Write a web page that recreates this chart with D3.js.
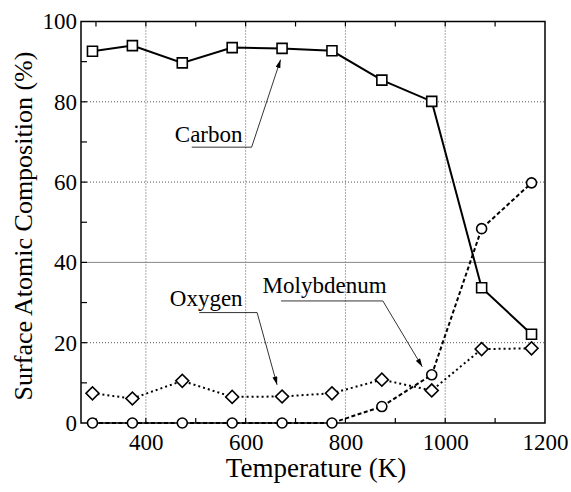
<!DOCTYPE html>
<html>
<head>
<meta charset="utf-8">
<script src="https://cdnjs.cloudflare.com/ajax/libs/d3/7.8.5/d3.min.js"></script>
<style>
  body { margin: 0; background: #fff; }
  text { font-family: "Liberation Serif", "Times New Roman", serif; fill: #000; }
</style>
</head>
<body>
<div id="chart"></div>
<script>
// temperatures (K) of each measurement
var temps = [293, 373, 473, 573, 673, 773, 873, 973, 1073, 1173];
// surface atomic composition (%)
var carbon = [92.6, 94.0, 89.7, 93.5, 93.3, 92.7, 85.4, 80.1, 33.7, 22.1];
var oxygen = [7.4, 6.1, 10.5, 6.5, 6.6, 7.4, 10.8, 8.1, 18.4, 18.6];
var molybdenum = [0, 0, 0, 0, 0, 0, 4.1, 12.0, 48.4, 59.8];

var xTicks = [400, 600, 800, 1000, 1200];
var yTicks = [0, 20, 40, 60, 80, 100];
var xMinor = [300, 400, 500, 600, 700, 800, 900, 1000, 1100];
var yMinor = [10, 20, 30, 40, 50, 60, 70, 80, 90];

// callout labels, placed in data units
var labelNames = ['Carbon', 'Oxygen', 'Molybdenum'];
var labelPos = [[458, 70.1], [448, 29.2], [634, 32.3]];
var labelLine = [
  [[492, 68.7], [612, 68.7], [670, 90.5]],
  [[507, 27.5], [623, 27.5], [663, 9.5]],
  [[671, 30.4], [875, 30.4], [954, 14.0]]
];

(function() {
  var W = 571, H = 492;
  var left = 81, right = 545, top = 21.5, bottom = 423;

  var svg = d3.select('#chart').append('svg')
    .attr('width', W)
    .attr('height', H);

  svg.append('defs').append('marker')
    .attr('id', 'arrow')
    .attr('viewBox', '0 0 10 6')
    .attr('refX', 10)
    .attr('refY', 3)
    .attr('markerWidth', 9)
    .attr('markerHeight', 5)
    .attr('markerUnits', 'userSpaceOnUse')
    .attr('orient', 'auto')
    .append('path')
    .attr('d', 'M0,0L10,3L0,6Z')
    .attr('fill', '#000');

  var x = d3.scaleLinear().domain([270, 1200]).range([left, right]);
  var y = d3.scaleLinear().domain([0, 100]).range([bottom, top]);

  // grid
  var grid = svg.append('g').attr('class', 'grid');
  grid.selectAll('line.gx')
    .data(xTicks.slice(0, -1))
    .enter().append('line')
    .attr('class', 'gx')
    .attr('x1', function(d){ return x(d); })
    .attr('x2', function(d){ return x(d); })
    .attr('y1', top)
    .attr('y2', bottom)
    .attr('stroke', '#555')
    .attr('stroke-width', 1)
    .attr('stroke-dasharray', '1,2');
  grid.selectAll('line.gy')
    .data(yTicks.slice(1, -1))
    .enter().append('line')
    .attr('class', 'gy')
    .attr('x1', left)
    .attr('x2', right)
    .attr('y1', function(d){ return y(d); })
    .attr('y2', function(d){ return y(d); })
    .attr('stroke', function(d){ return d === 40 ? '#888' : '#555'; })
    .attr('stroke-width', 1)
    .attr('stroke-dasharray', function(d){ return d === 40 ? null : '1,2'; });

  // minor ticks on frame
  var ticks = svg.append('g').attr('stroke', '#000').attr('stroke-width', 1.2);
  ticks.selectAll('line.tt')
    .data(xMinor)
    .enter().append('line')
    .attr('class', 'tt')
    .attr('x1', function(d){ return x(d); })
    .attr('x2', function(d){ return x(d); })
    .attr('y1', top)
    .attr('y2', top + 5);
  ticks.selectAll('line.tb')
    .data(xMinor)
    .enter().append('line')
    .attr('class', 'tb')
    .attr('x1', function(d){ return x(d); })
    .attr('x2', function(d){ return x(d); })
    .attr('y1', bottom)
    .attr('y2', bottom - 5);
  ticks.selectAll('line.tl')
    .data(yMinor)
    .enter().append('line')
    .attr('class', 'tl')
    .attr('x1', left)
    .attr('x2', left + 6)
    .attr('y1', function(d){ return y(d); })
    .attr('y2', function(d){ return y(d); });

  // frame
  svg.append('rect')
    .attr('x', left)
    .attr('y', top)
    .attr('width', right - left)
    .attr('height', bottom - top)
    .attr('fill', 'none')
    .attr('stroke', '#000')
    .attr('stroke-width', 1.5);

  // axis labels
  var xAxis = svg.append('g')
    .attr('transform', 'translate(0,' + bottom + ')')
    .call(d3.axisBottom(x).tickValues(xTicks).tickFormat(d3.format('d')).tickSize(0).tickPadding(11));
  var yAxis = svg.append('g')
    .attr('transform', 'translate(' + left + ',0)')
    .call(d3.axisLeft(y).tickValues(yTicks).tickFormat(d3.format('d')).tickSize(0).tickPadding(4));
  [xAxis, yAxis].forEach(function(a){
    a.select('.domain').remove();
    a.selectAll('text')
      .attr('font-size', 23)
      .attr('fill', '#000');
  });

  svg.append('text')
    .attr('x', 316)
    .attr('y', 477)
    .attr('text-anchor', 'middle')
    .attr('font-size', 27)
    .text('Temperature (K)');
  svg.append('text')
    .attr('transform', 'translate(32,' + 226 + ') rotate(-90)')
    .attr('text-anchor', 'middle')
    .attr('font-size', 26)
    .text('Surface Atomic Composition (%)');

  // callouts
  var call = svg.append('g');
  call.selectAll('text')
    .data(labelNames)
    .enter().append('text')
    .attr('x', function(d, i){ return x(labelPos[i][0]); })
    .attr('y', function(d, i){ return y(labelPos[i][1]); })
    .attr('font-size', 23)
    .text(function(d){ return d; });
  var line = d3.line()
    .x(function(d){ return x(d[0]); })
    .y(function(d){ return y(d[1]); });
  call.selectAll('path')
    .data(labelLine)
    .enter().append('path')
    .attr('d', line)
    .attr('fill', 'none')
    .attr('stroke', '#000')
    .attr('stroke-width', 0.8)
    .attr('marker-end', 'url(#arrow)');

  // series
  var series = [
    { values: molybdenum, dash: '4,2.5', shape: 'circle' },
    { values: oxygen, dash: '2,3', shape: 'diamond' },
    { values: carbon, dash: null, shape: 'square' }
  ];
  var symbols = {
    circle: d3.symbol().type(d3.symbolCircle).size(Math.PI * 25),
    diamond: d3.symbol().type(d3.symbolSquare).size(84),
    square: d3.symbol().type(d3.symbolSquare).size(100)
  };

  series.forEach(function(s){
    var pts = temps.map(function(t, i){ return [t, s.values[i]]; });
    svg.append('path')
      .datum(pts)
      .attr('d', line)
      .attr('fill', 'none')
      .attr('stroke', '#000')
      .attr('stroke-width', 2)
      .attr('stroke-dasharray', s.dash);
    svg.selectAll('path.m-' + s.shape)
      .data(pts)
      .enter().append('path')
      .attr('class', 'm-' + s.shape)
      .attr('d', symbols[s.shape])
      .attr('transform', function(d){
        return 'translate(' + x(d[0]) + ',' + y(d[1]) + ')' + (s.shape === 'diamond' ? ' rotate(45)' : '');
      })
      .attr('fill', '#fff')
      .attr('stroke', '#000')
      .attr('stroke-width', 1.6);
  });
})();
</script>
</body>
</html>
